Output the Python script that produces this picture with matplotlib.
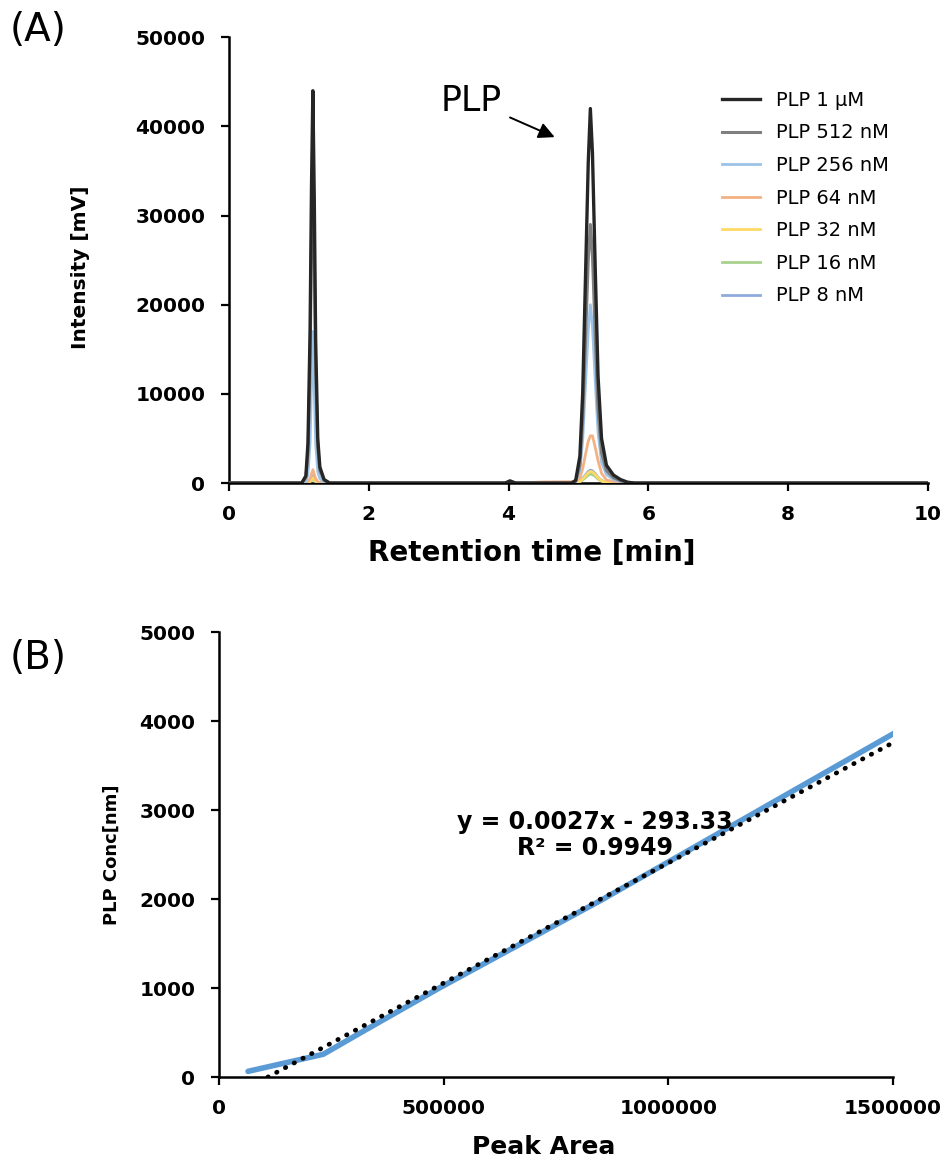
import matplotlib.pyplot as plt

plt.rcParams['font.family'] = ['DejaVu Sans']

# ---- panel A: chromatograms ----
t = [0, 1.04, 1.10, 1.13, 1.16, 1.18, 1.20, 1.22, 1.24, 1.27, 1.30, 1.36, 1.44,
     3.95, 4.02, 4.10, 4.5,
     4.90, 4.96, 5.02, 5.06, 5.10, 5.14, 5.17, 5.20, 5.24, 5.28, 5.33, 5.40,
     5.50, 5.60, 5.70, 5.80, 10]

plp_1uM = [0, 0, 800, 4500, 17000, 33000, 44000, 32000, 16000, 5000, 1800, 400, 0,
           0, 250, 0, 0,
           0, 300, 3000, 10000, 23000, 36000, 42000, 37000, 24000, 12000, 5000, 2000,
           900, 400, 100, 0, 0]
plp_512 = [0, 0, 600, 3400, 13000, 27000, 38000, 26000, 12500, 4000, 1400, 300, 0,
           0, 0, 0, 0,
           0, 200, 2000, 7000, 16000, 25000, 29000, 25500, 16500, 8200, 3400, 1400,
           600, 250, 60, 0, 0]
plp_256 = [0, 0, 200, 1000, 4500, 11000, 17000, 10500, 4500, 1300, 500, 100, 0,
           0, 0, 0, 0,
           0, 150, 1400, 4800, 11000, 17200, 20000, 17600, 11400, 5700, 2300, 950,
           400, 150, 40, 0, 0]
plp_64 = [0, 0, 30, 150, 500, 1000, 1500, 1000, 500, 150, 60, 10, 0,
          0, 0, 0, 120,
          150, 200, 600, 1600, 3200, 4700, 5300, 5300, 4000, 2500, 1100, 350,
          150, 60, 20, 0, 0]
plp_32 = [0, 0, 10, 60, 200, 400, 600, 400, 200, 60, 20, 5, 0,
          0, 0, 0, 0,
          0, 30, 200, 450, 800, 1150, 1300, 1250, 950, 600, 250, 90,
          40, 15, 0, 0, 0]
plp_16 = [0, 0, 10, 50, 150, 300, 400, 300, 150, 50, 20, 5, 0,
          0, 0, 0, 0,
          0, 20, 150, 350, 600, 880, 1000, 950, 750, 450, 200, 70,
          30, 10, 0, 0, 0]
plp_8 = [0, 0, 20, 100, 300, 550, 800, 550, 300, 100, 40, 10, 0,
         0, 0, 0, 0,
         0, 30, 220, 550, 900, 1300, 1450, 1380, 1050, 650, 280, 100,
         40, 15, 0, 0, 0]

series = [plp_1uM, plp_512, plp_256, plp_64, plp_32, plp_16, plp_8]
labels = ['PLP 1 µM', 'PLP 512 nM', 'PLP 256 nM', 'PLP 64 nM',
          'PLP 32 nM', 'PLP 16 nM', 'PLP 8 nM']
colors = ['#262626', '#7F7F7F', '#9DC3E6', '#F4B183', '#FFD966', '#A9D18E', '#8FAADC']
widths = [2.4, 2.2, 2.0, 2.0, 2.0, 2.0, 2.0]

# ---- panel B: calibration ----
peak_area = [64500, 232000, 320000, 490000, 855000, 1550000]
plp_conc = [64, 256, 512, 1000, 2000, 4000]
slope, intercept = 0.0027, -293.33

fig = plt.figure(figsize=(9.47, 11.64), dpi=100)
axA = fig.add_axes([0.2418, 0.585, 0.7381, 0.383])
axB = fig.add_axes([0.2313, 0.0747, 0.7117, 0.3823])

handles = [None] * len(series)
for i in range(len(series) - 1, -1, -1):
    h, = axA.plot(t, series[i], color=colors[i], lw=widths[i], label=labels[i],
                  solid_joinstyle='round', zorder=10 - i)
    handles[i] = h

axA.set_xlim(0, 10)
axA.set_ylim(0, 50000)
axA.set_xticks([0, 2, 4, 6, 8, 10])
axA.set_yticks([0, 10000, 20000, 30000, 40000, 50000])
axA.set_xlabel('Retention time [min]', fontsize=20, fontweight='bold', va='center')
axA.xaxis.set_label_coords(0.433, -0.157)
axA.set_ylabel('Intensity [mV]', fontsize=14.5, fontweight='bold', va='center')
axA.yaxis.set_label_coords(-0.213, 0.484)
axA.legend(handles=handles, loc='upper left', bbox_to_anchor=(0.705, 0.88),
           frameon=False, fontsize=14, borderpad=0, borderaxespad=0,
           handlelength=1.95, handletextpad=0.85, labelspacing=0.7)
axA.annotate('PLP', xy=(4.66, 38800), xytext=(3.47, 42900), fontsize=25,
             ha='center', va='center',
             arrowprops=dict(arrowstyle='-|>', color='black', lw=1.4,
                             mutation_scale=24, shrinkA=4, shrinkB=0))

x_fit = [-intercept / slope, 1500000]
y_fit = [slope * x + intercept for x in x_fit]
axB.plot(peak_area, plp_conc, color='#5B9BD5', lw=4, solid_capstyle='round', zorder=3)
axB.plot(x_fit, y_fit, color='black', lw=3.4, linestyle=(0, (0.1, 2.0)),
         dash_capstyle='round', zorder=4)
axB.set_xlim(0, 1500000)
axB.set_ylim(0, 5000)
axB.set_xticks([0, 500000, 1000000, 1500000])
axB.set_xticklabels(['0', '500000', '1000000', '1500000'])
axB.set_yticks([0, 1000, 2000, 3000, 4000, 5000])
axB.set_xlabel('Peak Area', fontsize=18, fontweight='bold', va='center')
axB.xaxis.set_label_coords(0.481, -0.157)
axB.set_ylabel('PLP Conc[nm]', fontsize=13, fontweight='bold', va='center')
axB.yaxis.set_label_coords(-0.159, 0.5)
axB.text(837000, 2720, 'y = 0.0027x - 293.33\nR² = 0.9949', fontsize=17,
         fontweight='bold', ha='center', va='center', linespacing=1.1)

for ax in (axA, axB):
    for s in ('top', 'right'):
        ax.spines[s].set_visible(False)
    for s in ('left', 'bottom'):
        ax.spines[s].set_linewidth(1.8)
    ax.tick_params(direction='out', length=6, width=1.6, labelsize=14.5)
    ax.tick_params(axis='x', pad=10)
    ax.tick_params(axis='y', pad=11)
    for lab in ax.get_xticklabels() + ax.get_yticklabels():
        lab.set_fontweight('bold')

fig.text(0.01, 0.974, '(A)', fontsize=28, va='center', ha='left')
fig.text(0.01, 0.435, '(B)', fontsize=28, va='center', ha='left')

fig.savefig('out.png', dpi=100)
